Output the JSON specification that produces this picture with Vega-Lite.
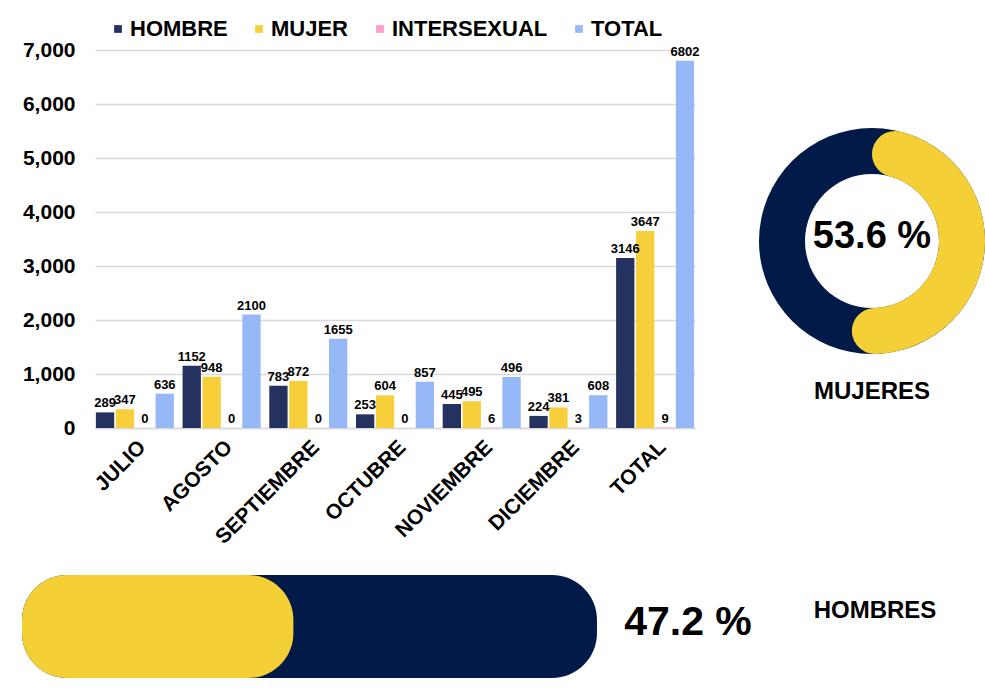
{
  "$schema": "https://vega.github.io/schema/vega-lite/v6.json",
  "background": "white",
  "padding": {"left": 22, "top": 18, "right": 0, "bottom": 0},
  "config": {
    "view": {"stroke": null},
    "font": "Liberation Sans"
  },
  "datasets": {
    "barras": [
      {"mes": "JULIO", "serie": "HOMBRE", "valor": 289, "etiqueta": "289"},
      {"mes": "JULIO", "serie": "MUJER", "valor": 347, "etiqueta": "347"},
      {"mes": "JULIO", "serie": "INTERSEXUAL", "valor": 0, "etiqueta": "0"},
      {"mes": "JULIO", "serie": "TOTAL", "valor": 636, "etiqueta": "636"},
      {"mes": "AGOSTO", "serie": "HOMBRE", "valor": 1152, "etiqueta": "1152"},
      {"mes": "AGOSTO", "serie": "MUJER", "valor": 948, "etiqueta": "948"},
      {"mes": "AGOSTO", "serie": "INTERSEXUAL", "valor": 0, "etiqueta": "0"},
      {"mes": "AGOSTO", "serie": "TOTAL", "valor": 2100, "etiqueta": "2100"},
      {"mes": "SEPTIEMBRE", "serie": "HOMBRE", "valor": 783, "etiqueta": "783"},
      {"mes": "SEPTIEMBRE", "serie": "MUJER", "valor": 872, "etiqueta": "872"},
      {"mes": "SEPTIEMBRE", "serie": "INTERSEXUAL", "valor": 0, "etiqueta": "0"},
      {"mes": "SEPTIEMBRE", "serie": "TOTAL", "valor": 1655, "etiqueta": "1655"},
      {"mes": "OCTUBRE", "serie": "HOMBRE", "valor": 253, "etiqueta": "253"},
      {"mes": "OCTUBRE", "serie": "MUJER", "valor": 604, "etiqueta": "604"},
      {"mes": "OCTUBRE", "serie": "INTERSEXUAL", "valor": 0, "etiqueta": "0"},
      {"mes": "OCTUBRE", "serie": "TOTAL", "valor": 857, "etiqueta": "857"},
      {"mes": "NOVIEMBRE", "serie": "HOMBRE", "valor": 445, "etiqueta": "445"},
      {"mes": "NOVIEMBRE", "serie": "MUJER", "valor": 495, "etiqueta": "495"},
      {"mes": "NOVIEMBRE", "serie": "INTERSEXUAL", "valor": 6, "etiqueta": "6"},
      {"mes": "NOVIEMBRE", "serie": "TOTAL", "valor": 946, "etiqueta": "496"},
      {"mes": "DICIEMBRE", "serie": "HOMBRE", "valor": 224, "etiqueta": "224"},
      {"mes": "DICIEMBRE", "serie": "MUJER", "valor": 381, "etiqueta": "381"},
      {"mes": "DICIEMBRE", "serie": "INTERSEXUAL", "valor": 3, "etiqueta": "3"},
      {"mes": "DICIEMBRE", "serie": "TOTAL", "valor": 608, "etiqueta": "608"},
      {"mes": "TOTAL", "serie": "HOMBRE", "valor": 3146, "etiqueta": "3146"},
      {"mes": "TOTAL", "serie": "MUJER", "valor": 3647, "etiqueta": "3647"},
      {"mes": "TOTAL", "serie": "INTERSEXUAL", "valor": 9, "etiqueta": "9"},
      {"mes": "TOTAL", "serie": "TOTAL", "valor": 6802, "etiqueta": "6802"}
    ],
    "dona": [
      {"parte": "base", "inicio": 0, "fin": 100},
      {"parte": "MUJERES", "inicio": 0, "fin": 53.6}
    ],
    "progreso": [
      {"fila": "a", "tramo": "base", "inicio": 0, "fin": 100},
      {"fila": "a", "tramo": "HOMBRES", "inicio": 0, "fin": 47.2}
    ]
  },
  "resolve": {"scale": {"color": "independent"}, "legend": {"color": "independent"}},
  "spacing": 27,
  "vconcat": [
    {
      "bounds": "flush",
      "spacing": 62,
      "resolve": {"scale": {"color": "independent"}, "legend": {"color": "independent"}},
      "hconcat": [
        {
          "width": 600,
          "height": 378,
          "data": {"name": "barras"},
          "encoding": {
            "x": {
              "field": "mes", "type": "nominal", "sort": null,
              "scale": {"paddingInner": 0.1, "paddingOuter": 0.01},
              "axis": {
                "title": null, "labelAngle": -45, "labelFontSize": 21, "labelFontWeight": "bold",
                "labelColor": "#000000", "ticks": false, "domainColor": "#D9D9D9", "domainWidth": 1.5,
                "labelPadding": 8, "grid": false
              }
            },
            "xOffset": {
              "field": "serie", "type": "nominal",
              "sort": ["HOMBRE", "MUJER", "INTERSEXUAL", "TOTAL"],
              "scale": {"paddingInner": 0.08}
            },
            "y": {
              "field": "valor", "type": "quantitative",
              "scale": {"domain": [0, 7000], "nice": false},
              "axis": {
                "title": null, "values": [0, 1000, 2000, 3000, 4000, 5000, 6000, 7000], "format": ",.0f",
                "labelFontSize": 21, "labelFontWeight": "bold", "labelColor": "#000000",
                "labelPadding": 20, "ticks": false, "domain": false,
                "gridColor": "#D9D9D9", "gridWidth": 1.5
              }
            }
          },
          "layer": [
            {
              "mark": {"type": "bar"},
              "encoding": {
                "color": {
                  "field": "serie", "type": "nominal",
                  "scale": {
                    "domain": ["HOMBRE", "MUJER", "INTERSEXUAL", "TOTAL"],
                    "range": ["#25325F", "#F6CF3A", "#FF9DCC", "#96B8F7"]
                  },
                  "legend": {
                    "title": null, "orient": "none", "legendX": 12, "legendY": -32,
                    "direction": "horizontal", "symbolType": "square", "symbolSize": 60,
                    "symbolStrokeWidth": 0, "labelFontSize": 22, "labelFontWeight": "bold",
                    "labelColor": "#000000", "labelOffset": 1, "columnPadding": 20
                  }
                }
              }
            },
            {
              "mark": {
                "type": "text", "baseline": "bottom", "dy": -2,
                "font": "Liberation Sans",
                "fontSize": 13, "fontWeight": "bold", "color": "#000000"
              },
              "encoding": {"text": {"field": "etiqueta"}}
            }
          ]
        },
        {
          "width": 230,
          "height": 382,
          "title": {
            "text": "MUJERES", "orient": "bottom", "offset": -52, "fontSize": 24,
            "fontWeight": "bold", "color": "#000000"
          },
          "layer": [
            {
              "data": {"name": "dona"},
              "mark": {"type": "arc", "radius": 113, "radius2": 67, "cornerRadius": 23},
              "encoding": {
                "theta": {"field": "fin", "type": "quantitative", "scale": {"domain": [0, 100]}},
                "theta2": {"field": "inicio"},
                "color": {
                  "field": "parte", "type": "nominal",
                  "scale": {"domain": ["base", "MUJERES"], "range": ["#011A48", "#F5CF36"]},
                  "legend": null
                }
              }
            },
            {
              "data": {"values": [{"texto": "53.6 %"}]},
              "mark": {"type": "text", "fontSize": 38, "fontWeight": "bold", "color": "#000000", "baseline": "middle", "dy": -4},
              "encoding": {"text": {"field": "texto"}}
            }
          ]
        }
      ]
    },
    {
      "bounds": "flush",
      "spacing": 16,
      "resolve": {"scale": {"color": "independent"}, "legend": {"color": "independent"}},
      "hconcat": [
        {
          "width": 502,
          "height": 103,
          "data": {"name": "progreso"},
          "mark": {"type": "bar", "cornerRadius": 45},
          "encoding": {
            "x": {"field": "fin", "type": "quantitative", "scale": {"domain": [0, 100], "range": [-73, 502]}, "axis": null},
            "x2": {"field": "inicio"},
            "y": {"field": "fila", "type": "nominal", "scale": {"paddingInner": 0, "paddingOuter": 0}, "axis": null},
            "color": {
              "field": "tramo", "type": "nominal",
              "scale": {"domain": ["base", "HOMBRES"], "range": ["#011A48", "#F5CF36"]},
              "legend": null
            }
          }
        },
        {
          "width": 150,
          "height": 96,
          "data": {"values": [{"texto": "47.2 %"}]},
          "mark": {"type": "text", "fontSize": 41, "fontWeight": "bold", "color": "#000000", "baseline": "middle"},
          "encoding": {"text": {"field": "texto"}}
        },
        {
          "width": 192,
          "height": 72,
          "data": {"values": [{"texto": "HOMBRES"}]},
          "mark": {"type": "text", "fontSize": 24, "fontWeight": "bold", "color": "#000000", "baseline": "middle"},
          "encoding": {"text": {"field": "texto"}}
        }
      ]
    }
  ]
}
